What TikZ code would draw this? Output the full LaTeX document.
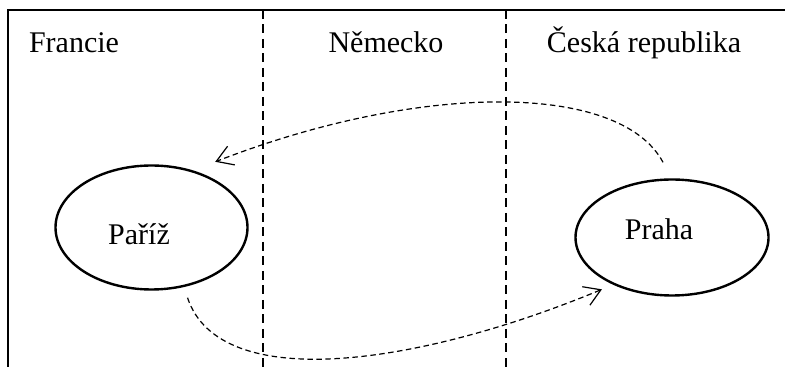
\documentclass[tikz,border=0pt]{standalone}
\usepackage{fontspec}
\setmainfont{Liberation Serif}
\usetikzlibrary{shapes.geometric,arrows.meta,calc}

\begin{document}
\begin{tikzpicture}[x=0.5pt,y=-0.5pt,
    font=\fontsize{15}{18}\selectfont,
    city/.style={draw,ellipse,line width=1.2pt,inner sep=0pt},
    trip/.style={line width=0.6pt,dash pattern=on 2.75pt off 1.75pt,
        -{Straight Barb[length=8pt,width=10pt]}},
    country/.style={anchor=base}]
    \useasboundingbox (0,0) rectangle (785,367);
    \draw[line width=1pt] (8,367) |- (785,10);
    \foreach \x in {263,506} {
        \draw[line width=1pt,dash pattern=on 4.5pt off 2.75pt] (\x,10) -- (\x,367);
    }
    \node[country] (francie) at (74,53) {Francie};
    \node[country] (nemecko) at (386,53) {Německo};
    \node[country] (cesko) at (644,53) {Česká republika};
    \node[city,minimum width=96pt,minimum height=62pt] (pariz) at (151.5,227.5) {};
    \node[city,minimum width=96.5pt,minimum height=58pt] (praha) at (672,237.5) {};
    \node[anchor=base] (pariz text) at (139,245) {Paříž};
    \node[anchor=base] (praha text) at (659,240) {Praha};
    \draw[trip] ($(praha.north)+(-9,-16)$)
        .. controls (620,82) and (420,82) .. ($(pariz.north east)+(-5,-21)$);
    \draw[trip] ($(pariz.south)+(36,7)$)
        .. controls (220,395) and (420,365) .. ($(praha.south west)+(-1,10)$);
\end{tikzpicture}
\end{document}
